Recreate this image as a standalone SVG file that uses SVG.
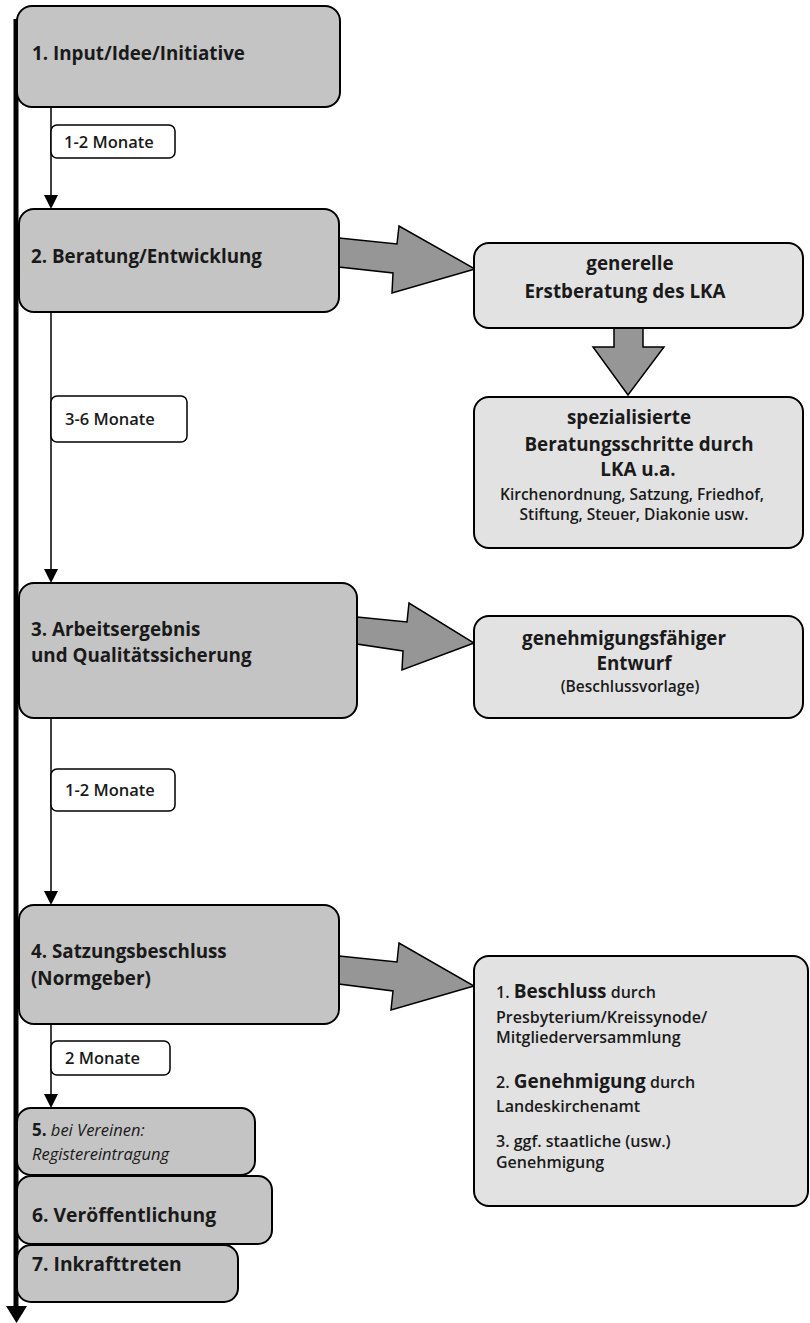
<svg xmlns="http://www.w3.org/2000/svg" width="810" height="1323" viewBox="0 0 810 1323">
<style>
  .main { fill: #c4c4c4; stroke: #000; stroke-width: 2; }
  .side { fill: #e2e2e2; stroke: #000; stroke-width: 2; }
  .lbl { fill: #fff; stroke: #000; stroke-width: 1.5; }
  .big { fill: #969696; stroke: #000; stroke-width: 1.5; stroke-linejoin: miter; }
  .conn { stroke: #000; stroke-width: 1.5; fill: none; }
  text { font-family: "Open Sans", Lato, sans-serif; fill: #1a1a1a; }
  .h { font-size: 18.8px; font-weight: bold; }
  .hb { font-size: 19.3px; font-weight: bold; }
  .l { font-size: 16.5px; font-weight: 600; }
  .s { font-size: 15.5px; font-weight: 600; }
  .m { font-size: 16px; font-weight: 600; }
  .it { font-size: 16.5px; font-style: italic; }
</style>

<g id="connectors">
  <line x1="16" y1="19" x2="16" y2="1308" stroke="#000" stroke-width="5"/>
  <polygon points="6,1306 27,1306 16.5,1323" fill="#000"/>
  <line class="conn" x1="51" y1="107" x2="51" y2="196"/>
  <polygon points="44,195 58,195 51,209" fill="#000"/>
  <line class="conn" x1="51" y1="312" x2="51" y2="570"/>
  <polygon points="44,569 58,569 51,583" fill="#000"/>
  <line class="conn" x1="51" y1="718" x2="51" y2="892"/>
  <polygon points="44,891 58,891 51,905" fill="#000"/>
  <line class="conn" x1="51" y1="1024" x2="51" y2="1095"/>
  <polygon points="44,1094 58,1094 51,1108" fill="#000"/>
  <polygon class="big" points="339,238 397,244 399,226 475,269 392,293 393,273 339,267"/>
  <polygon class="big" points="614,328 643,328 643,347 664,347 628,395 593,347 614,347"/>
  <polygon class="big" points="357,617 407,622 409,603 474,643 402,670 403,651 357,644"/>
  <polygon class="big" points="339,956 397,962 399,943 474,986 391,1010 393,991 339,984"/>
</g>

<g id="lbl1">
  <rect class="lbl" x="51" y="125" width="124" height="33" rx="6"/>
  <text class="l" x="64" y="148">1-2 Monate</text>
</g>
<g id="lbl2">
  <rect class="lbl" x="51" y="396" width="136" height="46" rx="6"/>
  <text class="l" x="65" y="425">3-6 Monate</text>
</g>
<g id="lbl3">
  <rect class="lbl" x="51" y="769" width="124" height="42" rx="6"/>
  <text class="l" x="65" y="796">1-2 Monate</text>
</g>
<g id="lbl4">
  <rect class="lbl" x="51" y="1041" width="119" height="34" rx="6"/>
  <text class="l" x="65" y="1064">2 Monate</text>
</g>

<g id="n1">
  <rect class="main" x="17" y="6" width="323" height="101" rx="15"/>
  <text class="h" x="32" y="60">1. Input/Idee/Initiative</text>
</g>
<g id="n2">
  <rect class="main" x="19" y="209" width="320" height="103" rx="15"/>
  <text class="h" x="31" y="263">2. Beratung/Entwicklung</text>
</g>
<g id="n3">
  <rect class="main" x="19" y="583" width="338" height="135" rx="15"/>
  <text class="h" x="31" y="636">3. Arbeitsergebnis</text>
  <text class="h" x="31" y="662">und Qualitätssicherung</text>
</g>
<g id="n4">
  <rect class="main" x="19" y="905" width="320" height="119" rx="15"/>
  <text class="h" x="31" y="958">4. Satzungsbeschluss</text>
  <text class="h" x="31" y="985">(Normgeber)</text>
</g>
<g id="n5">
  <rect class="main" x="17" y="1108" width="238" height="67" rx="14"/>
  <text x="32" y="1136"><tspan font-size="17" font-weight="bold">5.</tspan><tspan class="it"> bei Vereinen:</tspan></text>
  <text class="it" x="32" y="1160">Registereintragung</text>
</g>
<g id="n6">
  <rect class="main" x="17" y="1176" width="255" height="68" rx="14"/>
  <text class="hb" x="32" y="1222">6. Veröffentlichung</text>
</g>
<g id="n7">
  <rect class="main" x="17" y="1245" width="221" height="57" rx="14"/>
  <text class="hb" x="32" y="1271">7. Inkrafttreten</text>
</g>

<g id="r1">
  <rect class="side" x="474" y="243" width="329" height="85" rx="15"/>
  <text class="h" x="630" y="270" text-anchor="middle">generelle</text>
  <text class="h" x="625" y="298" text-anchor="middle">Erstberatung des LKA</text>
</g>
<g id="r2">
  <rect class="side" x="474" y="397" width="329" height="151" rx="15"/>
  <text class="h" x="629" y="424" text-anchor="middle">spezialisierte</text>
  <text class="h" x="639" y="451" text-anchor="middle">Beratungsschritte durch</text>
  <text class="h" x="638" y="476" text-anchor="middle">LKA u.a.</text>
  <text class="s" x="632" y="500" text-anchor="middle">Kirchenordnung, Satzung, Friedhof,</text>
  <text class="s" x="634" y="520" text-anchor="middle">Stiftung, Steuer, Diakonie usw.</text>
</g>
<g id="r3">
  <rect class="side" x="474" y="616" width="329" height="102" rx="15"/>
  <text class="h" x="624" y="645" text-anchor="middle">genehmigungsfähiger</text>
  <text class="h" x="634" y="670" text-anchor="middle">Entwurf</text>
  <text x="630" y="692" text-anchor="middle" font-size="15.5" font-weight="600">(Beschlussvorlage)</text>
</g>
<g id="r4">
  <rect class="side" x="474" y="956" width="334" height="250" rx="15"/>
  <text x="496" y="998"><tspan class="m">1. </tspan><tspan font-size="19" font-weight="bold">Beschluss</tspan><tspan class="m"> durch</tspan></text>
  <text class="m" x="496" y="1023">Presbyterium/Kreissynode/</text>
  <text class="m" x="496" y="1043">Mitgliederversammlung</text>
  <text x="496" y="1088"><tspan class="m">2. </tspan><tspan font-size="19" font-weight="bold">Genehmigung</tspan><tspan class="m"> durch</tspan></text>
  <text class="m" x="496" y="1112">Landeskirchenamt</text>
  <text class="m" x="496" y="1147">3. ggf. staatliche (usw.)</text>
  <text class="m" x="496" y="1168">Genehmigung</text>
</g>
</svg>
